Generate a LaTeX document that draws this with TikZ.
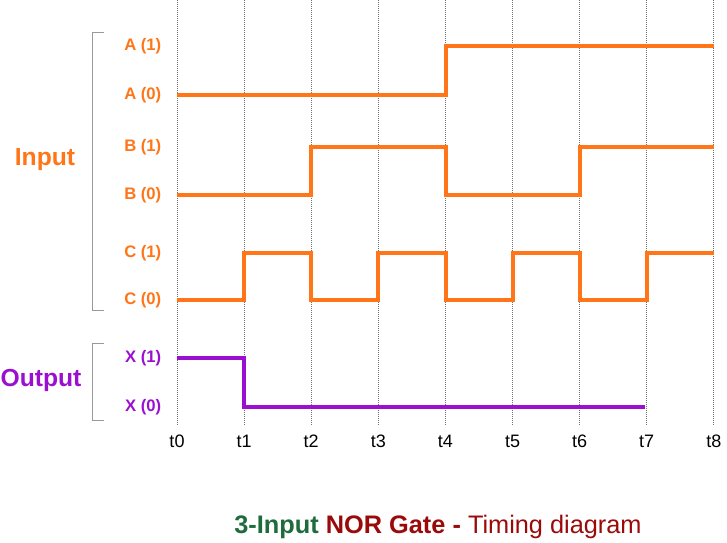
\documentclass[tikz,border=0pt]{standalone}
\usepackage{fontspec}
\setmainfont{Liberation Sans}
\definecolor{org}{HTML}{FF7518}
\definecolor{pur}{HTML}{9B10D0}
\definecolor{grn}{HTML}{1E6B3C}
\definecolor{drd}{HTML}{9A0A0A}
\begin{document}
\begin{tikzpicture}[x=0.75pt,y=-0.75pt,
  sig/.style={line width=2.6pt,line join=miter},
  lab/.style={font=\bfseries\fontsize{12.5}{14}\selectfont,anchor=east},
  tl/.style={font=\fontsize{13.5}{15}\selectfont},
  grid/.style={densely dotted,gray!90!black,line width=0.5pt},
  brk/.style={gray!80,line width=0.6pt}]
\useasboundingbox (0,0) rectangle (727,542);
\foreach \i in {0,...,8}{
  \pgfmathsetmacro\xx{177+67.1*\i}
  \draw[grid] (\xx,0) -- (\xx,425);
  \node[tl] (t\i) at (\xx,441) {t\i};
}
% labels
\node[lab,text=org] (a1) at (166,46) {A (1)};
\node[lab,text=org] (a0) at (166,95) {A (0)};
\node[lab,text=org] (b1) at (166,147) {B (1)};
\node[lab,text=org] (b0) at (166,195) {B (0)};
\node[lab,text=org] (c1) at (166,253) {C (1)};
\node[lab,text=org] (c0) at (166,300) {C (0)};
\node[lab,text=pur] (x1) at (166,358) {X (1)};
\node[lab,text=pur] (x0) at (166,407) {X (0)};
\node[text=org,font=\bfseries\fontsize{18.5}{20}\selectfont] (inp) at (45,160) {Input};
\node[text=pur,font=\bfseries\fontsize{18.5}{20}\selectfont] (outp) at (41,380) {Output};
\draw[brk] (104,32) -- (92,32) -- (92,310) -- (104,310);
\draw[brk] (104,343) -- (92,343) -- (92,420) -- (104,420);
% signals
\draw[sig,org] (177,95) -- (446,95) -- (446,46) -- (714,46);
\draw[sig,org] (177,195) -- (311,195) -- (311,147) -- (446,147) -- (446,195) -- (580,195) -- (580,147) -- (714,147);
\draw[sig,org] (177,300) -- (244,300) -- (244,253) -- (311,253) -- (311,300) -- (378,300) -- (378,253) -- (446,253) -- (446,300) -- (513,300) -- (513,253) -- (580,253) -- (580,300) -- (647,300) -- (647,253) -- (714,253);
\draw[sig,pur] (177,358) -- (244,358) -- (244,407) -- (645,407);
\node[font=\fontsize{19}{21}\selectfont] (title) at (438,527) {\textcolor{grn}{\bfseries 3-Input} \textcolor{drd}{\bfseries NOR Gate -} \textcolor{drd}{Timing diagram}};
\end{tikzpicture}
\end{document}
